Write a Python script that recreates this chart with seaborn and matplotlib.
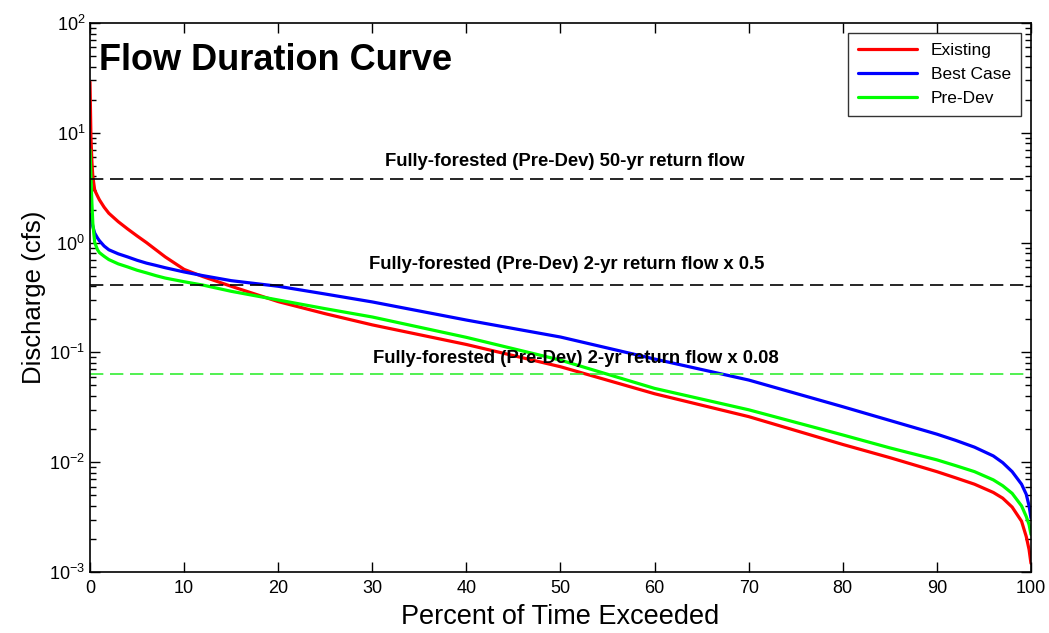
import pandas as pd
import matplotlib
matplotlib.use("Agg")
import matplotlib.pyplot as plt
import seaborn as sns

# Percent of time exceeded (x) and discharge in cfs for each scenario
pct = [0, 0.1, 0.2, 0.3, 0.5, 0.8, 1, 1.5, 2, 3, 4, 5, 6, 7, 8, 10, 12, 15, 20, 25, 30, 40, 50,
       60, 70, 80, 85, 90, 92, 94, 96, 97, 98, 99, 99.5, 99.8, 100]
existing = [29, 9.0, 5.5, 4.0, 3.0, 2.65, 2.45, 2.1, 1.85, 1.55, 1.33, 1.15, 1.0, 0.86, 0.74, 0.57,
            0.49, 0.40, 0.29, 0.225, 0.178, 0.118, 0.074, 0.042, 0.026, 0.0145, 0.011, 0.0082,
            0.0072, 0.0063, 0.0053, 0.0047, 0.0039, 0.0029, 0.0021, 0.0016, 0.0012]
best_case = [1.8, 1.7, 1.55, 1.4, 1.22, 1.1, 1.04, 0.93, 0.86, 0.79, 0.74, 0.69, 0.65, 0.62, 0.59,
             0.54, 0.50, 0.45, 0.40, 0.34, 0.288, 0.197, 0.138, 0.087, 0.056, 0.032, 0.024, 0.018,
             0.0158, 0.0137, 0.0114, 0.0099, 0.0082, 0.0063, 0.0051, 0.0040, 0.0031]
pre_dev = [7.0, 4.0, 2.3, 1.5, 1.0, 0.86, 0.81, 0.75, 0.70, 0.64, 0.60, 0.56, 0.53, 0.50, 0.475,
           0.44, 0.41, 0.36, 0.30, 0.25, 0.21, 0.137, 0.085, 0.047, 0.030, 0.0177, 0.0135, 0.0105,
           0.0093, 0.0082, 0.0069, 0.0061, 0.0052, 0.0040, 0.0032, 0.0027, 0.0022]

series_names = ['Existing', 'Best Case', 'Pre-Dev']
series_colors = ['#ff0000', '#0000ff', '#00ff00']

# Reference flows (horizontal lines)
ref_values = [3.8, 0.41, 0.0635]
ref_labels = ['Fully-forested (Pre-Dev) 50-yr return flow',
              'Fully-forested (Pre-Dev) 2-yr return flow x 0.5',
              'Fully-forested (Pre-Dev) 2-yr return flow x 0.08']
ref_colors = ['black', 'black', '#33ee33']

df = pd.DataFrame({
    'pct': pct * 3,
    'Q': existing + best_case + pre_dev,
    'Scenario': [n for n in series_names for _ in pct],
})

sns.set_style('ticks')
plt.rcParams['font.family'] = ['Liberation Sans', 'DejaVu Sans']
plt.rcParams['mathtext.fontset'] = 'custom'
plt.rcParams['mathtext.rm'] = 'Liberation Sans'
plt.rcParams['text.color'] = 'black'
plt.rcParams['axes.labelcolor'] = 'black'

fig = plt.figure(figsize=(10.49, 6.33), dpi=100)
ax = fig.add_axes([0.0858, 0.0964, 0.897, 0.8673])

sns.lineplot(data=df, x='pct', y='Q', hue='Scenario', palette=series_colors,
             linewidth=2.3, ax=ax, sort=False, estimator=None)

for val, lab, col, fac, xc in zip(ref_values, ref_labels, ref_colors, [1.2, 1.28, 1.16], [50.5, 50.7, 51.6]):
    ax.axhline(val, color=col, linestyle=(0, (8, 4)), linewidth=1.2)
    ax.text(xc, val * fac, lab, ha='center', va='bottom', fontsize=13.3,
            fontweight='bold', color='black')

ax.set_yscale('log')
ax.set_xlim(0, 100)
ax.set_ylim(1e-3, 1e2)
ax.set_xticks(range(0, 101, 10))

ax.tick_params(which='both', direction='in', top=True, right=True, labelsize=13, colors='black')
ax.tick_params(which='major', length=7, width=1)
ax.tick_params(which='minor', length=4, width=1)
ax.tick_params(axis='x', pad=6)
for sp in ax.spines.values():
    sp.set_linewidth(1.2)
    sp.set_color('black')

ax.set_xlabel('Percent of Time Exceeded', fontsize=19.5, labelpad=5)
ax.set_ylabel('Discharge (cfs)', fontsize=18.5, labelpad=2)

ax.text(0.01, 0.963, 'Flow Duration Curve', transform=ax.transAxes, fontsize=26,
        fontweight='bold', ha='left', va='top', color='black')

leg = ax.legend(loc='upper right', fontsize=12.5, frameon=True, fancybox=False,
                edgecolor='black', handlelength=3.4, borderaxespad=0.55,
                labelspacing=0.5, borderpad=0.6)
leg.get_frame().set_linewidth(1.0)
leg.set_title(None)

fig.savefig('out.png', dpi=100)
